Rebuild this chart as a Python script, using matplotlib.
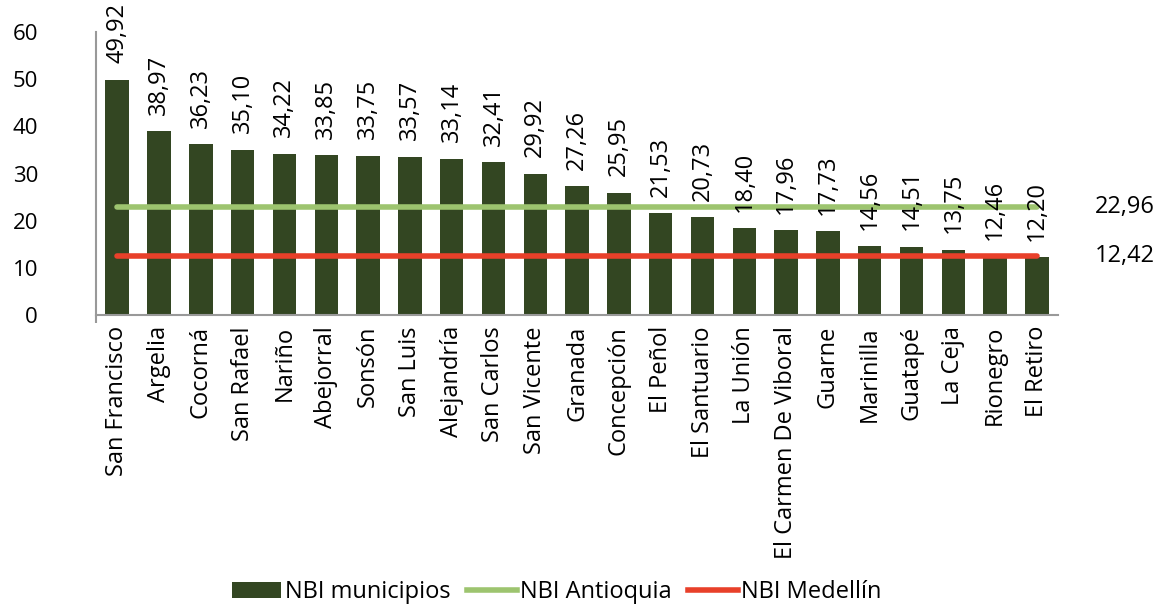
import matplotlib
matplotlib.use('Agg')
import matplotlib.pyplot as plt
from matplotlib.patches import Patch
from matplotlib.lines import Line2D
import numpy as np

plt.rcParams['font.family'] = ['Open Sans', 'DejaVu Sans']

municipios = ['San Francisco', 'Argelia', 'Cocorná', 'San Rafael', 'Nariño', 'Abejorral',
              'Sonsón', 'San Luis', 'Alejandría', 'San Carlos', 'San Vicente', 'Granada',
              'Concepción', 'El Peñol', 'El Santuario', 'La Unión', 'El Carmen De Viboral',
              'Guarne', 'Marinilla', 'Guatapé', 'La Ceja', 'Rionegro', 'El Retiro']
nbi_municipios = [49.92, 38.97, 36.23, 35.10, 34.22, 33.85, 33.75, 33.57, 33.14, 32.41,
                  29.92, 27.26, 25.95, 21.53, 20.73, 18.40, 17.96, 17.73, 14.56, 14.51,
                  13.75, 12.46, 12.20]
nbi_antioquia = 22.96
nbi_medellin = 12.42

bar_color = '#334622'
green = '#9dc46f'
red = '#e8402a'

def fmt(v):
    return ('%.2f' % v).replace('.', ',')

fig = plt.figure(figsize=(11.6, 6.08), dpi=100)
ax = fig.add_axes([0.083, 0.482, 0.829, 0.465])

x = np.arange(len(municipios))
ax.bar(x, nbi_municipios, width=0.56, color=bar_color)
ax.plot([x[0], x[-1]], [nbi_antioquia] * 2, color=green, lw=4, solid_capstyle='round')
ax.plot([x[0], x[-1]], [nbi_medellin] * 2, color=red, lw=4, solid_capstyle='round')

# etiquetas de valores
for xi, v in zip(x, nbi_municipios):
    ax.annotate(fmt(v), (xi, v), xytext=(0, 12), textcoords='offset points',
                rotation=90, ha='center', va='bottom', fontsize=17)

ax.text(1.07, nbi_antioquia, fmt(nbi_antioquia), transform=ax.get_yaxis_transform(),
        ha='center', va='center', fontsize=17)
ax.text(1.07, nbi_medellin, fmt(nbi_medellin), transform=ax.get_yaxis_transform(),
        ha='center', va='center', fontsize=17)

ax.set_xlim(-0.5, len(municipios) - 0.5)
ax.set_ylim(0, 60)
ax.set_yticks(range(0, 61, 10))
ax.tick_params(axis='y', length=0, labelsize=16, pad=42)
ax.set_xticks(x)
ax.set_xticklabels(municipios, rotation=90, fontsize=17)
ax.tick_params(axis='x', which='major', length=0, pad=8)
ax.set_xticks([-0.5], minor=True)
ax.tick_params(axis='x', which='minor', length=6, color='#999999', width=1.5)

for s in ['top', 'right']:
    ax.spines[s].set_visible(False)
ax.spines['left'].set_color('#999999')
ax.spines['bottom'].set_color('#999999')
ax.spines['left'].set_linewidth(1.5)
ax.spines['bottom'].set_linewidth(1.5)

handles = [Patch(facecolor=bar_color), Line2D([], [], color=green, lw=4),
           Line2D([], [], color=red, lw=4)]
fig.legend(handles, ['NBI municipios', 'NBI Antioquia', 'NBI Medellín'],
           loc='center', bbox_to_anchor=(0.48, 0.026), ncol=3, frameon=False,
           fontsize=17, handlelength=2.1, handletextpad=0.15, columnspacing=0.7)

fig.savefig('out.png', dpi=100)
